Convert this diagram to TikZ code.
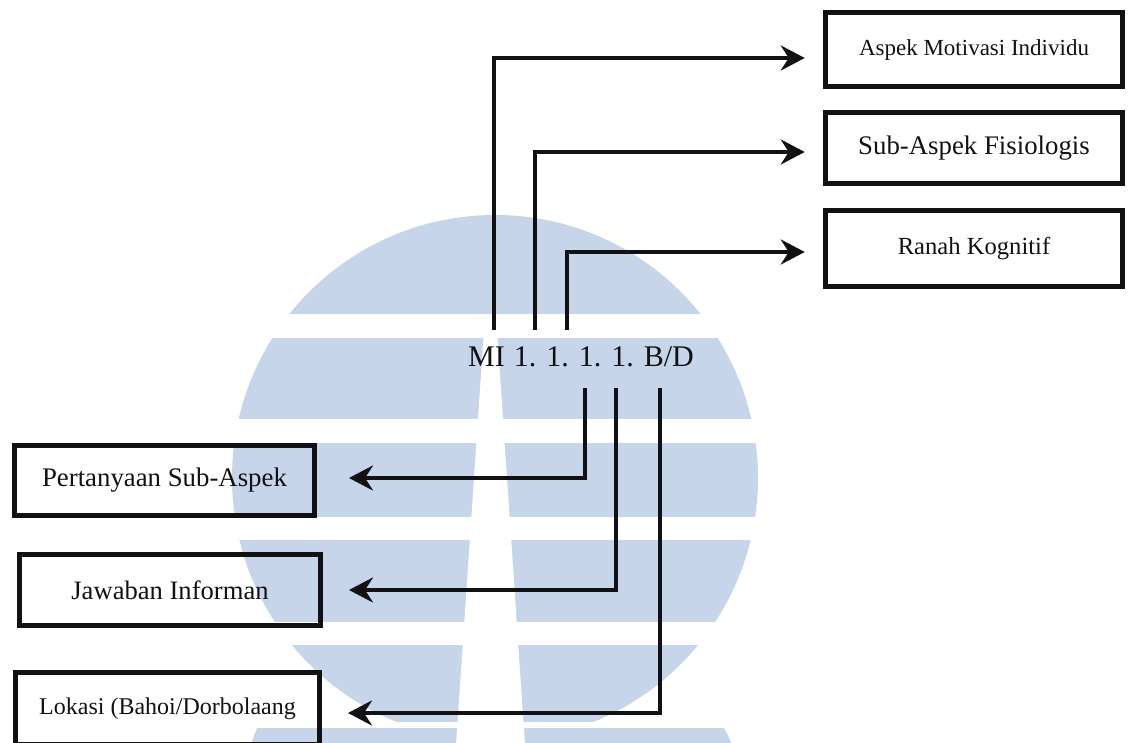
\documentclass[tikz,border=0pt]{standalone}
\usepackage{fontspec}
\setmainfont{Liberation Serif}
\usetikzlibrary{arrows.meta}
\definecolor{wmblue}{RGB}{198,213,233}
\definecolor{ink}{RGB}{17,17,20}
\begin{document}
\begin{tikzpicture}[x=0.5pt,y=-0.5pt,
  box/.style={draw=ink, line width=2.5pt, inner sep=0pt, text=ink},
  link/.style={draw=ink, line width=2.3pt, line join=miter,
    -{Stealth[length=12pt,width=12.5pt,inset=4pt]}},
]
\useasboundingbox (0,0) rectangle (1128,743);

% background emblem: striped globe
\fill[wmblue] (495,478) circle[radius=131.5pt];
\fill[wmblue] (257,728) -- (724,728) -- (740,760) -- (245,760) -- cycle;
\foreach \ya/\yb in {314/338, 419/443, 517/540, 622/645, 722/728}
  \fill[white] (200,\ya) rectangle (800,\yb);
\fill[white] (484,330) -- (497,330) -- (526,760) -- (455,760) -- cycle;

% right-hand boxes
\node[box, minimum width=148.75pt, minimum height=37pt,
  font=\fontsize{11.5}{13}\selectfont] (b1) at (974,50) {Aspek Motivasi Individu};
\node[box, minimum width=148.75pt, minimum height=35.5pt,
  font=\fontsize{13.4}{15}\selectfont] (b2) at (974,148.5) {Sub-Aspek Fisiologis};
\node[box, minimum width=148.75pt, minimum height=37.5pt,
  font=\fontsize{12.3}{14}\selectfont] (b3) at (974,248.5) {Ranah Kognitif};

% left-hand boxes
\node[box, minimum width=150pt, minimum height=35pt,
  font=\fontsize{13.4}{15}\selectfont] (bp) at (164.5,480.5) {Pertanyaan Sub-Aspek};
\node[box, minimum width=150.5pt, minimum height=35.5pt,
  font=\fontsize{13.3}{15}\selectfont] (bj) at (170,590) {Jawaban Informan};
\node[box, minimum width=152pt, minimum height=36pt,
  font=\fontsize{12}{14}\selectfont] (bl) at (167.5,708.5) {Lokasi (Bahoi/Dorbolaang};

% code label
\node[text=ink, inner sep=0pt, font=\fontsize{15}{18}\selectfont] (code) at (581,357)
  {MI\hspace{0.3em}1. 1. 1. 1. B/D};

% line ends above and below the code
\coordinate (s1) at (494,330);
\coordinate (s2) at (535,330);
\coordinate (s3) at (567,330);
\coordinate (u1) at (585,388);
\coordinate (u2) at (616,388);
\coordinate (u3) at (660,388);

% arrow tips in front of the boxes
\coordinate (t1) at ([xshift=-9pt]b1.west |- 0,58);
\coordinate (t2) at ([xshift=-9pt]b2.west |- 0,152);
\coordinate (t3) at ([xshift=-9pt]b3.west |- 0,252);
\coordinate (p1) at ([xshift=16pt]bp.east |- 0,478);
\coordinate (p2) at ([xshift=13pt]bj.east |- 0,590);
\coordinate (p3) at ([xshift=13pt]bl.east |- 0,713);

\draw[link] (s1) |- (t1);
\draw[link] (s2) |- (t2);
\draw[link] (s3) |- (t3);
\draw[link] (u1) |- (p1);
\draw[link] (u2) |- (p2);
\draw[link] (u3) |- (p3);
\end{tikzpicture}
\end{document}
